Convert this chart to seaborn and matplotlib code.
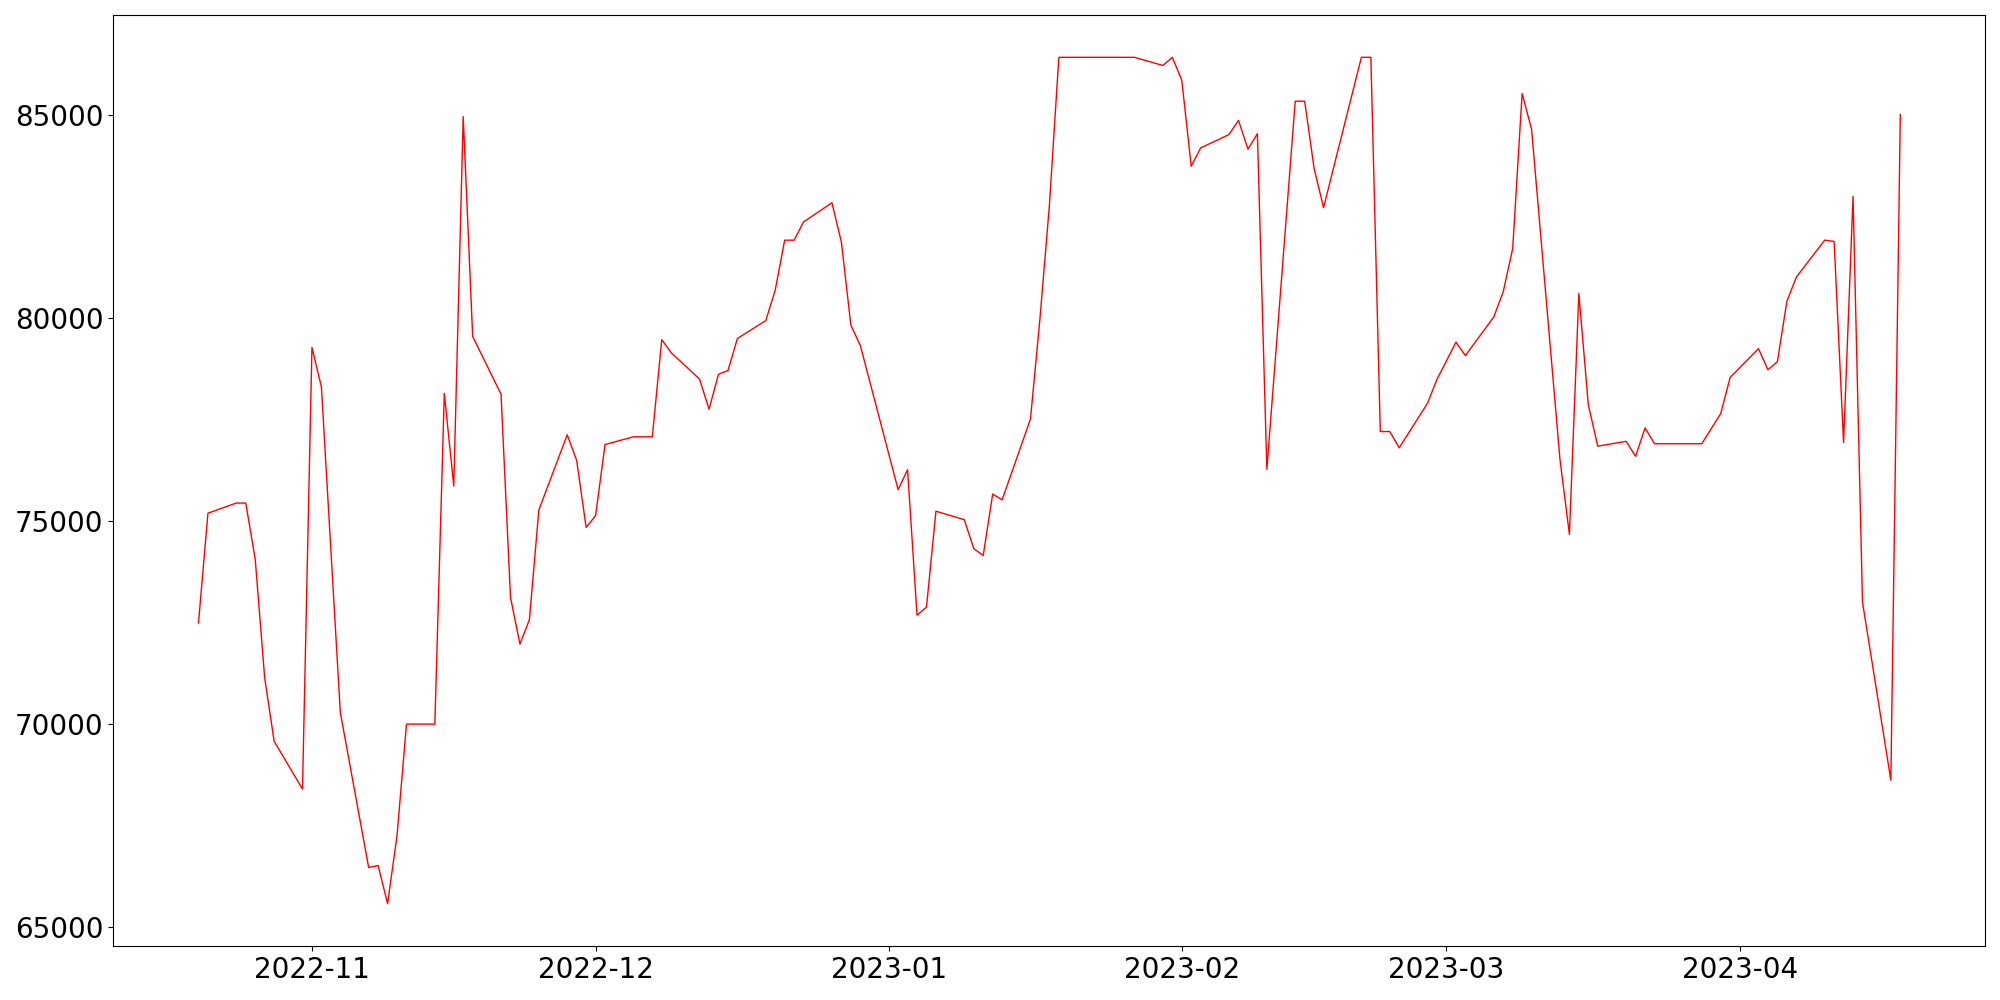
import matplotlib
matplotlib.use("Agg")
import matplotlib.pyplot as plt
import seaborn as sns
import pandas as pd

# Trading days (day of month) and values per month
oct_days = [20, 21, 24, 25, 26, 27, 28, 31]
oct_vals = [72490, 75190, 75440, 75440, 74060, 71140, 69580, 68400]

nov_days = [1, 2, 3, 4, 7, 8, 9, 10, 11, 14, 15, 16, 17, 18, 21, 22, 23, 24, 25, 28, 29, 30]
nov_vals = [79270, 78300, 74300, 70290, 66470, 66520, 65580, 67260, 70000, 70000, 78140,
            75860, 84950, 79540, 78120, 73120, 71970, 72570, 75270, 77120, 76490, 74840]

dec_days = [1, 2, 5, 6, 7, 8, 9, 12, 13, 14, 15, 16, 19, 20, 21, 22, 23, 26, 27, 28, 29, 30]
dec_vals = [75130, 76880, 77070, 77070, 77070, 79460, 79140, 78490, 77750, 78610, 78700,
            79490, 79930, 80680, 81910, 81910, 82360, 82830, 81860, 79820, 79320, 78430]

jan_days = [2, 3, 4, 5, 6, 9, 10, 11, 12, 13, 16, 17, 18, 19, 20, 23, 24, 25, 26, 27, 30, 31]
jan_vals = [75770, 76260, 72680, 72880, 75240, 75030, 74320, 74150, 75660, 75520, 77510,
            79980, 82770, 86410, 86410, 86410, 86410, 86410, 86410, 86410, 86210, 86410]

feb_days = [1, 2, 3, 6, 7, 8, 9, 10, 13, 14, 15, 16, 17, 20, 21, 22, 23, 24, 27, 28]
feb_vals = [85850, 83730, 84180, 84510, 84860, 84150, 84530, 76270, 85330, 85330, 83670,
            82710, 83640, 86410, 86410, 77200, 77200, 76800, 77900, 78490]

mar_days = [1, 2, 3, 6, 7, 8, 9, 10, 13, 14, 15, 16, 17, 20, 21, 22, 23, 24, 27, 28, 29, 30, 31]
mar_vals = [78940, 79400, 79070, 80020, 80640, 81700, 85520, 84640, 76520, 74670, 80600,
            77860, 76840, 76960, 76590, 77290, 76900, 76900, 76900, 76900, 77270, 77640, 78530]

apr_days = [3, 4, 5, 6, 7, 10, 11, 12, 13, 14, 17, 18]
apr_vals = [79240, 78720, 78920, 80400, 81000, 81910, 81880, 76930, 82990, 73000, 68620, 85000]

months = [(2022, 10, oct_days, oct_vals), (2022, 11, nov_days, nov_vals),
          (2022, 12, dec_days, dec_vals), (2023, 1, jan_days, jan_vals),
          (2023, 2, feb_days, feb_vals), (2023, 3, mar_days, mar_vals),
          (2023, 4, apr_days, apr_vals)]

dates, values = [], []
for y, m, ds, vs in months:
    assert len(ds) == len(vs)
    dates += [pd.Timestamp(y, m, d) for d in ds]
    values += vs

df = pd.DataFrame({"date": dates, "value": values})

fig, ax = plt.subplots(figsize=(20, 10), dpi=100)
sns.lineplot(data=df, x="date", y="value", color="red", linewidth=1, ax=ax)
ax.set_xlabel("")
ax.set_ylabel("")
ax.tick_params(labelsize=20)
fig.subplots_adjust(left=0.0567, right=0.9927, top=0.985, bottom=0.054)
fig.savefig("out.png", dpi=100)
